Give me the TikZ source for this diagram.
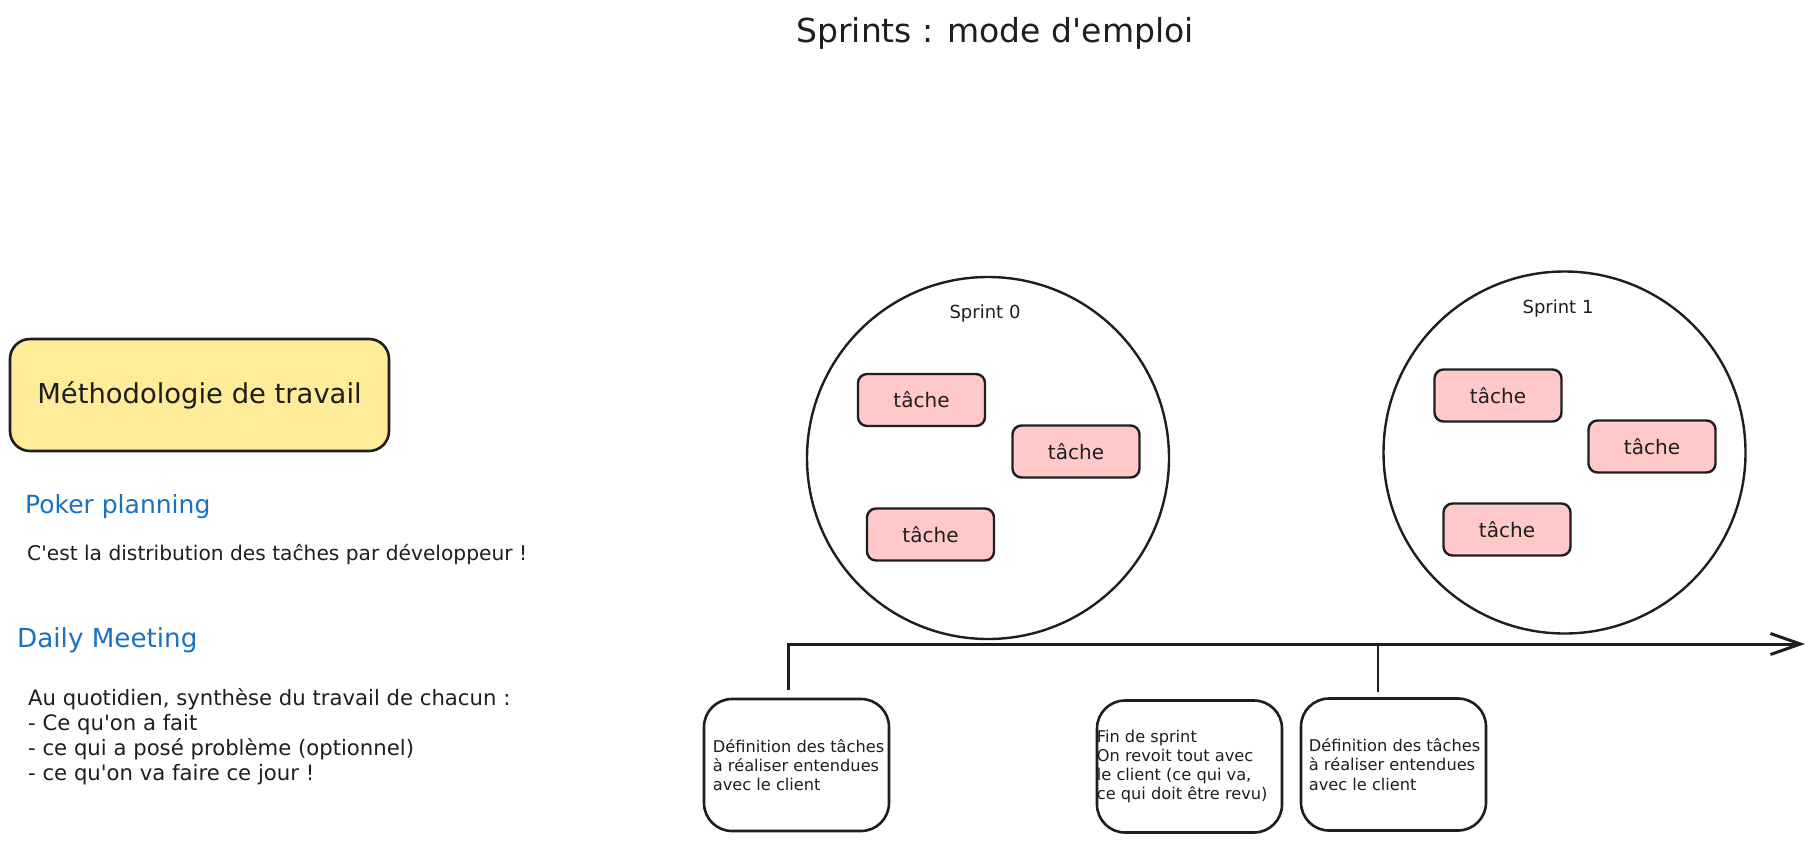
\documentclass[tikz,border=0pt]{standalone}
\usepackage{fontspec}
\setmainfont{DejaVu Sans}[Ligatures=TeXOff]
\usetikzlibrary{arrows.meta}

\definecolor{ink}{HTML}{1E1E1E}
\definecolor{notebg}{HTML}{FFEC99}
\definecolor{taskbg}{HTML}{FFC9C9}
\definecolor{headblue}{HTML}{1971C2}

\tikzset{
  sketch/.style={draw=ink, line width=2.6pt},
  titlebox/.style={sketch, fill=notebg, rounded corners=20pt, minimum width=379pt,
    minimum height=112pt, inner sep=0pt, text=ink, font=\fontsize{27.4}{32}\selectfont},
  task/.style={sketch, line width=2.4pt, fill=taskbg, rounded corners=9pt, minimum width=127pt,
    minimum height=52pt, inner sep=0pt, text=ink, font=\fontsize{20}{24}\selectfont},
  sprint/.style={circle, sketch, line width=2.4pt, minimum size=362pt, inner sep=0pt},
  sprintlabel/.style={anchor=base, inner sep=0pt, text=ink, font=\fontsize{18}{22}\selectfont},
  notebox/.style={sketch, rounded corners=28pt, minimum width=185pt, minimum height=132pt, inner sep=0pt},
  notetext/.style={anchor=west, align=left, inner sep=0pt, text=ink, font=\fontsize{16.2}{19.3}\selectfont},
  heading/.style={anchor=base west, inner sep=0pt, text=headblue},
  bodytext/.style={inner sep=0pt, text=ink},
  timeline/.style={draw=ink, line width=3pt, -{Straight Barb[length=30pt,width=21pt]}},
  tickline/.style={draw=ink, line width=2.6pt},
}

\begin{document}
\begin{tikzpicture}[x=1pt, y=-1pt]
\fill[white] (0,0) rectangle (1814,844);
\useasboundingbox (0,0) rectangle (1814,844);

% title
\node[bodytext, anchor=base, font=\fontsize{33}{40}\selectfont] (title) at (995,42) {Sprints : mode d'emploi};

% left column: method notes
\node[titlebox] (method) at (199.5,395) {Méthodologie de travail};

\node[heading, font=\fontsize{25}{30}\selectfont] (poker) at (25,513) {Poker planning};
\node[bodytext, anchor=base west, font=\fontsize{20.2}{25}\selectfont] (pokertxt) at (27,560)
  {C'est la distribution des taĉhes par développeur !};

\node[heading, font=\fontsize{26.2}{30}\selectfont] (daily) at (17,647) {Daily Meeting};
\node[bodytext, anchor=west, align=left, font=\fontsize{21.2}{25}\selectfont] (dailytxt) at (28,736.5)
  {Au quotidien, synthèse du travail de chacun :\\
   - Ce qu'on a fait\\
   - ce qui a posé problème (optionnel)\\
   - ce qu'on va faire ce jour !};

% sprint 0
\node[sprint] (s0) at (988,458) {};
\node[sprintlabel] (s0lbl) at (985,318) {Sprint 0};
\node[task] (s0a) at (921.5,400) {tâche};
\node[task] (s0b) at (1076,451.5) {tâche};
\node[task] (s0c) at (930.5,534.5) {tâche};

% sprint 1
\node[sprint] (s1) at (1564.5,452.5) {};
\node[sprintlabel] (s1lbl) at (1558,313) {Sprint 1};
\node[task] (s1a) at (1498,395.5) {tâche};
\node[task] (s1b) at (1652,446.5) {tâche};
\node[task] (s1c) at (1507,529.5) {tâche};

% notes under the timeline
\node[notebox] (na) at (796.5,765) {};
\node[notebox] (nb) at (1189.5,766.5) {};
\node[notebox] (nc) at (1393.5,764.5) {};

\node[notetext] (ta) at ([xshift=10pt]na.west)
  {Définition des tâches\\à réaliser entendues\\avec le client};
\node[notetext] (tb) at ([xshift=1pt]nb.west)
  {Fin de sprint\\On revoit tout avec\\le client (ce qui va,\\ce qui doit être revu)};
\node[notetext] (tc) at ([xshift=9pt]nc.west)
  {Définition des tâches\\à réaliser entendues\\avec le client};

% timeline
\coordinate (tlstart) at (788,690);
\coordinate (tlend) at (1805,644);
\coordinate (tick1top) at (1378,644);
\coordinate (tick1bot) at (1378,692);
\draw[timeline] (tlstart) |- (tlend);
\draw[tickline] (tick1top) -- (tick1bot);
\end{tikzpicture}
\end{document}
